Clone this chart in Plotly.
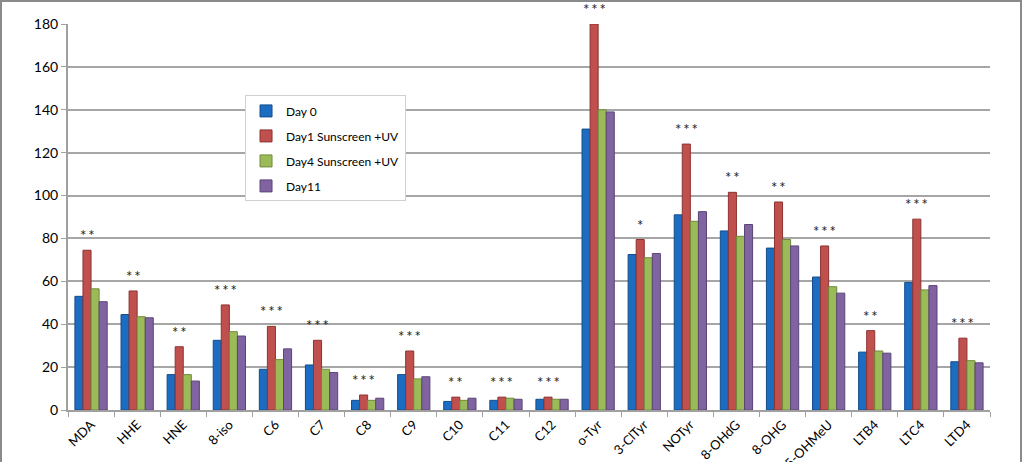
import plotly.graph_objects as go

categories = ["MDA", "HHE", "HNE", "8-iso", "C6", "C7", "C8", "C9", "C10", "C11", "C12",
              "o-Tyr", "3-ClTyr", "NOTyr", "8-OHdG", "8-OHG", "5-OHMeU", "LTB4", "LTC4", "LTD4"]
day0 = [53, 44.5, 16.5, 32.5, 19, 21, 4.5, 16.5, 4, 4.5, 5, 131, 72.5, 91, 83.5, 75.5, 62, 27, 59.5, 22.5]
day1 = [74.5, 55.5, 29.5, 49, 39, 32.5, 7, 27.5, 6, 6, 6, 180, 79.5, 124, 101.5, 97, 76.5, 37, 89, 33.5]
day4 = [56.5, 43.5, 16.5, 36.5, 23.5, 19, 4.5, 14.5, 4.5, 5.5, 5, 140, 71, 88, 81, 79.5, 57.5, 27.5, 56, 23]
day11 = [50.5, 43, 13.5, 34.5, 28.5, 17.5, 5.5, 15.5, 5.5, 5, 5, 139, 73, 92.5, 86.5, 76.5, 54.5, 26.5, 58, 22]
stars = ["**", "**", "**", "***", "***", "***", "***", "***", "**", "***", "***",
         "***", "*", "***", "**", "**", "***", "**", "***", "***"]
series_names = ["Day 0", "Day1 Sunscreen +UV", "Day4 Sunscreen +UV", "Day11"]
yticks = [0, 20, 40, 60, 80, 100, 120, 140, 160, 180]
ymax = 180

colors = ["#1C6DC2", "#C0504D", "#9BBB59", "#8064A2"]
edges = ["#124C8A", "#8C3331", "#6F8A3B", "#5A4575"]

fig = go.Figure()
for i, (name, vals, c, e) in enumerate(zip(series_names, [day0, day1, day4, day11], colors, edges)):
    fig.add_trace(go.Bar(x=categories, y=vals, name=name, legendgroup=f"g{i}",
                         marker=dict(color=c, line=dict(color=e, width=1))))

for cat, s, a, b, c, d in zip(categories, stars, day0, day1, day4, day11):
    fig.add_annotation(x=cat, y=(max(a, b, c, d) + 7) / ymax, yref="paper", text="\u2009".join(s),
                       showarrow=False, xshift=-4, font=dict(size=15, color="#222222"), yanchor="middle")

fig.add_shape(type="rect", xref="paper", yref="paper",
              x0=(1 - 68) / 922, x1=(1021 - 68) / 922, y0=-60 / 386, y1=(410 - 1) / 386,
              line=dict(color="#8a8a8a", width=2), layer="below")

fig.update_layout(
    width=1024, height=462,
    margin=dict(l=68, r=34, t=24, b=52),
    paper_bgcolor="white", plot_bgcolor="white",
    barmode="group", bargap=0.3, bargroupgap=0.0,
    font=dict(family="Lato, Open Sans, sans-serif", size=13, color="#000000"),
    legend=dict(x=0.192, y=0.815, xanchor="left", yanchor="top",
                bgcolor="white", bordercolor="#d0d0d0", borderwidth=1,
                font=dict(size=12), itemwidth=30, tracegroupgap=6,
                traceorder="grouped"),
    xaxis=dict(tickangle=-45, showline=True, linecolor="#a0a0a0", linewidth=2,
               ticks="outside", tickson="boundaries", ticklen=5, tickcolor="#a0a0a0",
               automargin=False, tickfont=dict(size=13)),
    yaxis=dict(range=[0, ymax], tickvals=yticks, showgrid=True, gridcolor="#a6a6a6", gridwidth=2,
               showline=True, linecolor="#a0a0a0", linewidth=2, ticks="outside", ticklen=5,
               tickcolor="#a0a0a0", zeroline=False, automargin=False, tickfont=dict(size=14)),
)

fig.write_html("out.html", config={"displayModeBar": False},
               post_script="document.body.style.margin='0';document.body.style.overflow='hidden';")
